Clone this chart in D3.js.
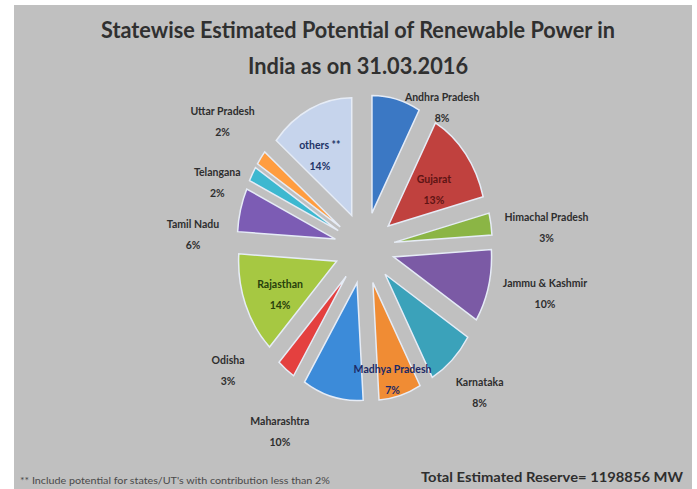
<!DOCTYPE html>
<html>
<head>
<meta charset="utf-8">
<script src="https://cdn.jsdelivr.net/npm/d3@7"></script>
<style>
  html, body { margin: 0; padding: 0; background: #ffffff; }
  svg { display: block; }
</style>
</head>
<body>
<svg id="chart" width="697" height="489"></svg>
<script>
// ---- Data ----
const categories = ["Andhra Pradesh", "Gujarat", "Himachal Pradesh", "Jammu & Kashmir",
  "Karnataka", "Madhya Pradesh", "Maharashtra", "Odisha", "Rajasthan",
  "Tamil Nadu", "Telangana", "Uttar Pradesh", "others **"];
const shares = [8, 13, 3, 10, 8, 7, 10, 3, 14, 6, 2, 2, 14];
const percentLabels = ["8%", "13%", "3%", "10%", "8%", "7%", "10%", "3%", "14%", "6%", "2%", "2%", "14%"];
const sliceColors = ["#3b78c4", "#c0413e", "#8bb545", "#7b5aa5", "#3ba2ba", "#f08c34",
  "#3c8bd9", "#e4403f", "#a6c842", "#7c5cb4", "#3db8d0", "#ff9d40", "#c6d4ec"];
const labelColors = ["#2e2e2e", "#5e1414", "#2e2e2e", "#2e2e2e", "#2e2e2e", "#1c2a66",
  "#2e2e2e", "#2e2e2e", "#27400c", "#2e2e2e", "#2e2e2e", "#2e2e2e", "#223366"];
// label nudges relative to the exploded slice centroid (layout only)
const labelNudge = [[58,-52],[7,-4],[104,-9],[104,18],[61,72],[6,37],[-65,88],[-88,44],[-11,8],[-95,7],[-78,-23],[-78,-74],[-11,-10]];
const titleLines = ["Statewise Estimated Potential of Renewable Power in", "India as on 31.03.2016"];
const footnote = "** Include potential for states/UT's with contribution less than 2%";
const totalText = "Total Estimated  Reserve= 1198856 MW";

// ---- Layout ----
const W = 697, H = 489;
const cx = 364.5, cy = 248, yStretch = 1.2;
const R = 98, explode = 30;

const svg = d3.select("#chart");
svg.append("rect").attr("x", 14).attr("y", 5).attr("width", 678).attr("height", H - 5).attr("fill", "#c0c0c0");

const font = "Lato, 'Open Sans', sans-serif";

// Title
svg.selectAll("text.title").data(titleLines).join("text")
  .attr("class", "title")
  .attr("x", 358).attr("y", (d, i) => 38 + i * 36)
  .attr("text-anchor", "middle")
  .attr("font-family", font).attr("font-weight", "bold").attr("font-size", 22)
  .attr("fill", "#303030")
  .attr("textLength", (d, i) => i === 0 ? 514 : 220)
  .attr("lengthAdjust", "spacingAndGlyphs")
  .text(d => d);

// Pie
const pie = d3.pie().value(d => d).sort(null);
const arcs = pie(shares);
const arc = d3.arc().innerRadius(0).outerRadius(R);

const g = svg.append("g").attr("transform", `translate(${cx},${cy}) scale(1,${yStretch})`);
g.selectAll("path").data(arcs).join("path")
  .attr("transform", d => {
    const m = (d.startAngle + d.endAngle) / 2;
    return `translate(${explode * Math.sin(m)},${-explode * Math.cos(m)})`;
  })
  .attr("d", arc)
  .attr("fill", (d, i) => sliceColors[i])
  .attr("stroke", "#e6ecf6")
  .attr("stroke-width", 1.5)
  .attr("vector-effect", "non-scaling-stroke");

// Labels
const lab = svg.append("g");
arcs.forEach((d, i) => {
  const m = (d.startAngle + d.endAngle) / 2;
  const rr = R / 2 + explode;
  const x = cx + rr * Math.sin(m) + labelNudge[i][0];
  const y = cy - rr * Math.cos(m) * yStretch + labelNudge[i][1];
  const t = lab.append("text")
    .attr("x", x).attr("y", y)
    .attr("text-anchor", "middle")
    .attr("font-family", font).attr("font-weight", "bold").attr("font-size", 10.5)
    .attr("fill", labelColors[i]);
  t.append("tspan").attr("x", x).attr("dy", -3).text(categories[i]);
  t.append("tspan").attr("x", x).attr("dy", 21).text(percentLabels[i]);
});

// Footnote and total
svg.append("text").attr("x", 20).attr("y", 484)
  .attr("font-family", font).attr("font-size", 8.5).attr("fill", "#4a4a4a")
  .attr("textLength", 310).attr("lengthAdjust", "spacingAndGlyphs")
  .text(footnote);
svg.append("text").attr("x", 421).attr("y", 482)
  .attr("font-family", font).attr("font-weight", "bold").attr("font-size", 14).attr("fill", "#2e2e2e")
  .attr("textLength", 262).attr("lengthAdjust", "spacingAndGlyphs")
  .text(totalText);
</script>
</body>
</html>
